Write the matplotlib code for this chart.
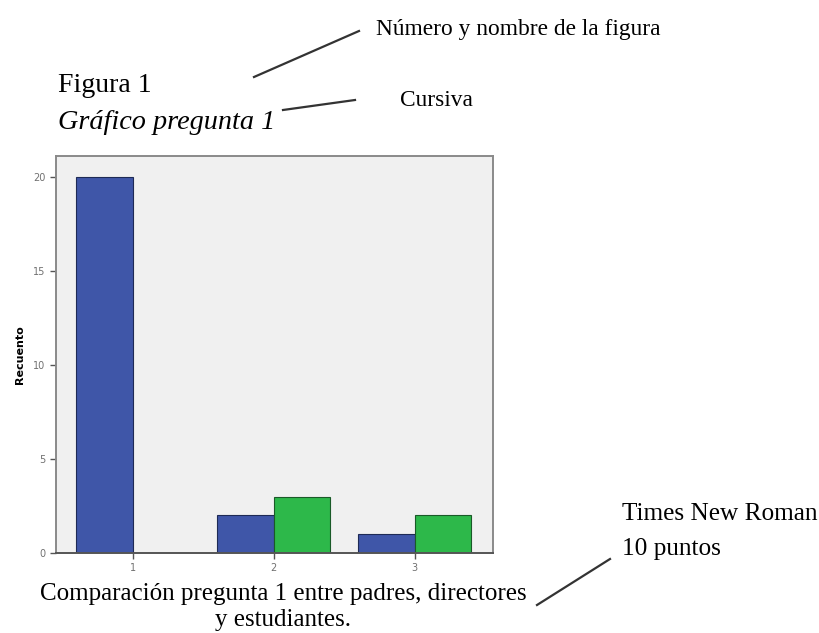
import numpy as np
import matplotlib.pyplot as plt
from matplotlib.lines import Line2D

# datos
categorias = ['1', '2', '3']
serie_azul = [20, 2, 1]
serie_verde = [0, 3, 2]
yticks = [0, 5, 10, 15, 20]

azul = '#3f56a8'
verde = '#2db84a'
fondo = '#f0f0f0'
serif = 'Liberation Serif'


def linea(fig, x0, y0, x1, y1):
    # coordenadas en pixeles (origen arriba a la izquierda)
    W, H = 820, 633
    fig.add_artist(Line2D([x0 / W, x1 / W], [1 - y0 / H, 1 - y1 / H],
                          color='#333333', lw=1.6, transform=fig.transFigure))


fig = plt.figure(figsize=(8.2, 6.33), dpi=100)
ax = fig.add_axes([56 / 820, 1 - 553 / 633, (493 - 56) / 820, (553 - 156) / 633])

x = np.arange(1, len(categorias) + 1)
w = 0.4
ax.bar(x - w / 2, serie_azul, w, color=azul, edgecolor='#1e2a55', lw=0.8)
ax.bar(x + w / 2, serie_verde, w, color=verde, edgecolor='#1a5a28', lw=0.8)

ax.set_facecolor(fondo)
ax.set_xlim(0.455, 3.555)
ax.set_ylim(0, 21.1)
ax.set_xticks(x)
ax.set_xticklabels(categorias)
ax.set_yticks(yticks)
for s in ax.spines.values():
    s.set_color('#8a8a8a')
    s.set_linewidth(1.4)
ax.spines['bottom'].set_color('#555555')
ax.tick_params(axis='both', labelsize=7, colors='#555555', labelcolor='#707070',
               length=4, width=1)
ax.set_ylabel('Recuento', fontsize=8, fontweight='bold', labelpad=6)

# textos de la figura
fig.text(58 / 820, 1 - 85 / 633, 'Figura 1', family=serif, fontsize=20, va='center')
fig.text(58 / 820, 1 - 122 / 633, 'Gráfico pregunta 1', family=serif, fontsize=20.3,
         style='italic', va='center')
fig.text(376 / 820, 1 - 30 / 633, 'Número y nombre de la figura', family=serif,
         fontsize=16.8, va='center')
fig.text(400 / 820, 1 - 101 / 633, 'Cursiva', family=serif, fontsize=16.8, va='center')
fig.text(622 / 820, 1 - 514 / 633, 'Times New Roman', family=serif, fontsize=18.2, va='center')
fig.text(622 / 820, 1 - 549 / 633, '10 puntos', family=serif, fontsize=18.2, va='center')
fig.text(283 / 820, 1 - 594 / 633, 'Comparación pregunta 1 entre padres, directores',
         family=serif, fontsize=18, ha='center', va='center')
fig.text(283 / 820, 1 - 620 / 633, 'y estudiantes.', family=serif, fontsize=18,
         ha='center', va='center')

linea(fig, 254, 77, 359, 31)
linea(fig, 283, 110, 355, 100)
linea(fig, 537, 605, 610, 559)

fig.savefig('out.png', dpi=100, facecolor='white')
